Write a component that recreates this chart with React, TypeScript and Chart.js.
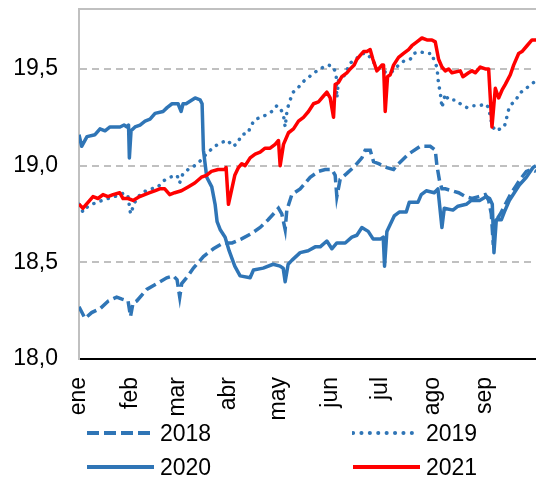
import { useEffect, useRef } from "react";
import { Chart, registerables } from "chart.js";
Chart.register(...registerables);

const monthLabels = ["ene", "feb", "mar", "abr", "may", "jun", "jul", "ago", "sep"];
const monthStartDays = [0, 31, 59, 90, 120, 151, 181, 212, 243];
const yTickValues = [18, 18.5, 19, 19.5];

// [day of year (0 = 1 ene), value]
const series2018: [number, number][] = [
  [0, 18.27], [3.6, 18.21], [7.6, 18.24], [12.6, 18.26], [17.6, 18.3], [22.6, 18.32], [25.8, 18.31], [29.4, 18.3],
  [30.9, 18.22], [32.4, 18.29], [34.6, 18.3], [40.6, 18.36], [46.6, 18.39], [52.6, 18.42], [56.6, 18.43], [58.8, 18.41],
  [60.4, 18.32], [61.6, 18.39], [65.4, 18.43], [68.6, 18.47], [74.6, 18.53], [80.6, 18.57], [86.4, 18.6], [91.8, 18.6],
  [97.2, 18.62], [103.6, 18.65], [108.6, 18.68], [113.4, 18.72], [117.6, 18.76], [119.6, 18.78], [121.6, 18.75], [123.6, 18.67],
  [124.6, 18.77], [127.6, 18.85], [132.6, 18.88], [138.6, 18.94], [143.6, 18.97], [147.6, 18.98], [151.6, 18.98], [153.6, 18.95],
  [154.6, 18.84], [156.6, 18.93], [160.6, 18.96], [165.6, 19.0], [169.6, 19.04], [171.6, 19.08], [174.6, 19.08], [176.6, 19.02],
  [179.6, 19.01], [184.6, 18.99], [188.6, 18.98], [191.6, 19.01], [197.6, 19.06], [204.6, 19.1], [210.6, 19.1], [213.6, 19.08],
  [214.6, 19.0], [216.2, 18.92], [217.6, 18.88], [219.6, 18.88], [223.6, 18.87], [227.6, 18.86], [231.6, 18.84], [235.6, 18.83],
  [239.6, 18.84], [243.6, 18.85], [245.6, 18.82], [247.2, 18.75], [248.4, 18.59], [249.6, 18.71], [252.6, 18.75], [255.6, 18.8],
  [258.6, 18.85], [261.6, 18.89], [264.6, 18.93], [268.2, 18.97], [271.2, 18.98], [274, 18.97],
];

const series2019: [number, number][] = [
  [0, 18.8], [2.4, 18.76], [5.4, 18.79], [10.4, 18.81], [17.4, 18.83], [21.4, 18.84], [27.4, 18.86], [29.4, 18.84],
  [30.9, 18.75], [33.4, 18.81], [37.4, 18.86], [40.4, 18.87], [43.4, 18.88], [47.4, 18.89], [50.4, 18.92], [54.4, 18.94],
  [58.8, 18.95], [60.3, 18.91], [62.4, 18.96], [65.4, 18.98], [69.4, 19.0], [73.4, 19.03], [77.4, 19.07], [81.4, 19.1],
  [85.4, 19.12], [89.4, 19.13], [91.8, 19.1], [94.6, 19.11], [97.6, 19.16], [101.6, 19.17], [102.6, 19.2], [105.6, 19.24],
  [109.6, 19.25], [111.6, 19.26], [115.6, 19.28], [118.6, 19.31], [120.6, 19.3], [122.6, 19.26], [123.6, 19.2], [124.8, 19.29],
  [126.6, 19.34], [128.4, 19.38], [131.2, 19.4], [133.8, 19.43], [136.6, 19.45], [139.6, 19.47], [142.6, 19.49], [146.6, 19.51],
  [149.6, 19.52], [152.6, 19.51], [154.2, 19.47], [154.6, 19.35], [155.6, 19.44], [158.6, 19.46], [162.6, 19.53], [167.2, 19.56],
  [170.6, 19.58], [172.8, 19.58], [177, 19.53], [180.6, 19.49], [185.6, 19.48], [188.6, 19.49], [191.6, 19.52], [194.6, 19.54],
  [198.6, 19.55], [200.6, 19.58], [204.6, 19.59], [207.6, 19.58], [211.6, 19.58], [213, 19.54], [214.6, 19.51], [215.6, 19.42],
  [216.6, 19.38], [217.6, 19.3], [219.6, 19.37], [221.6, 19.34], [225.6, 19.34], [228.6, 19.32], [232.6, 19.3], [236.2, 19.31],
  [240.2, 19.31], [243.6, 19.32], [245.6, 19.3], [247.6, 19.21], [249.6, 19.18], [252.6, 19.19], [255, 19.2], [256.2, 19.24],
  [257.6, 19.29], [259.6, 19.32], [262.2, 19.34], [263.6, 19.37], [266.6, 19.39], [269.6, 19.41], [272.6, 19.43], [274, 19.45],
];

const series2020: [number, number][] = [
  [0, 19.16], [1.6, 19.1], [4.8, 19.15], [9.6, 19.16], [12.6, 19.19], [15.6, 19.18], [18.6, 19.2], [24.6, 19.2],
  [27, 19.21], [28.8, 19.2], [29.7, 19.21], [30.2, 19.04], [31.2, 19.18], [33.6, 19.2], [36.6, 19.21], [39.6, 19.23],
  [42.6, 19.24], [45.6, 19.27], [50.4, 19.28], [52.8, 19.3], [55.8, 19.32], [59.4, 19.32], [61.2, 19.28], [62.4, 19.32],
  [64.2, 19.32], [69.6, 19.35], [72.6, 19.34], [73.8, 19.32], [74.6, 19.08], [76.6, 18.94], [79.6, 18.89], [81.6, 18.8],
  [82.8, 18.71], [84.6, 18.67], [87.6, 18.63], [90, 18.56], [93.4, 18.48], [96.6, 18.43], [102.6, 18.42], [104.6, 18.46],
  [110.4, 18.47], [116.4, 18.49], [120.6, 18.48], [122.4, 18.47], [123.6, 18.4], [125.4, 18.49], [127.6, 18.51], [132.6, 18.55],
  [137.4, 18.56], [141.6, 18.58], [144.6, 18.58], [148.6, 18.61], [151.6, 18.57], [154.6, 18.6], [159.6, 18.6], [163.6, 18.63],
  [166.6, 18.64], [169.6, 18.68], [173.4, 18.66], [176.4, 18.62], [180.6, 18.62], [182.4, 18.63], [183.2, 18.48], [184.6, 18.66],
  [189, 18.74], [192, 18.76], [196.2, 18.76], [198, 18.81], [203.2, 18.81], [205.2, 18.85], [208.2, 18.87], [213, 18.86],
  [215.2, 18.88], [217.6, 18.68], [219, 18.78], [224.2, 18.77], [227.2, 18.79], [232.2, 18.8], [235.2, 18.82], [240.2, 18.82],
  [244.2, 18.84], [246.2, 18.83], [247.8, 18.8], [248.8, 18.55], [250.2, 18.72], [253.2, 18.72], [255, 18.76], [258, 18.82],
  [261, 18.86], [264, 18.9], [268.2, 18.94], [272.2, 18.99], [274, 19.0],
];

const series2021: [number, number][] = [
  [0, 18.8], [2.4, 18.78], [5.4, 18.81], [8.4, 18.84], [11.4, 18.83], [14.4, 18.85], [17.4, 18.84], [20.4, 18.85],
  [24.4, 18.86], [26.4, 18.83], [29.4, 18.83], [32.4, 18.82], [36.4, 18.84], [39.4, 18.85], [42.4, 18.86], [45.4, 18.87],
  [48.4, 18.88], [51.4, 18.88], [54.4, 18.85], [57.4, 18.86], [61.4, 18.87], [65.4, 18.89], [69.4, 18.91], [73.4, 18.94],
  [76.4, 18.95], [79.4, 18.97], [83.4, 18.98], [87.4, 18.98], [88.2, 18.99], [89.6, 18.8], [93.4, 18.95], [95.6, 18.99],
  [97.6, 19.01], [99.6, 19.0], [102.6, 19.04], [105.6, 19.06], [108.6, 19.07], [111.6, 19.09], [114.6, 19.09], [117.6, 19.11],
  [119.6, 19.13], [120.6, 19.0], [122.6, 19.11], [125.6, 19.17], [128.6, 19.19], [131.6, 19.23], [134.6, 19.25], [137.6, 19.28],
  [140.6, 19.32], [143.6, 19.33], [146.6, 19.36], [148.6, 19.38], [150.6, 19.35], [152.6, 19.25], [153.6, 19.42], [155.6, 19.43],
  [157.6, 19.46], [160.6, 19.48], [162.6, 19.5], [165, 19.52], [166.6, 19.55], [168.6, 19.57], [170.6, 19.59], [172.6, 19.59],
  [174.6, 19.6], [176.2, 19.55], [178.6, 19.49], [181.6, 19.52], [182.6, 19.52], [183.6, 19.28], [185, 19.46], [186.6, 19.47],
  [188.6, 19.52], [191.6, 19.56], [194.6, 19.58], [197.6, 19.6], [199.6, 19.62], [202.6, 19.64], [205.6, 19.66], [208.6, 19.65],
  [211.6, 19.65], [213.6, 19.64], [215.6, 19.55], [217.6, 19.51], [219.6, 19.49], [221.6, 19.5], [223.6, 19.48], [228.6, 19.49],
  [230.2, 19.46], [233.6, 19.48], [235.6, 19.49], [237.6, 19.48], [240.6, 19.51], [243.6, 19.5], [245.6, 19.5], [247.6, 19.2],
  [249.6, 19.4], [251.6, 19.35], [253.6, 19.39], [255.6, 19.42], [258.6, 19.47], [260.6, 19.52], [263.6, 19.58], [265.6, 19.59],
  [268.6, 19.62], [271.6, 19.65], [274, 19.65],
];

const BLUE = "#2f75b6";
const RED = "#ff0000";
const FONT = "'Liberation Sans', Arial, sans-serif";

const toPoints = (s: [number, number][]) => s.map(([x, y]) => ({ x, y }));

const topBorder = {
  id: "topBorder",
  afterDraw(chart: any) {
    const { ctx, chartArea } = chart;
    ctx.save();
    ctx.strokeStyle = "#c0c0c0";
    ctx.lineWidth = 2;
    ctx.beginPath();
    ctx.moveTo(chartArea.left, chartArea.top);
    ctx.lineTo(chartArea.right, chartArea.top);
    ctx.stroke();
    ctx.restore();
  },
};

function LegendItem({ left, top, label, dash, color, cap }: any) {
  return (
    <>
      <svg style={{ position: "absolute", left, top: top - 5, width: 70, height: 10 }}>
        <line x1={1} y1={5} x2={68} y2={5} stroke={color} strokeWidth={4} strokeDasharray={dash} strokeLinecap={cap} />
      </svg>
      <span
        style={{
          position: "absolute",
          left: left + 74,
          top: top - 11.5,
          font: `23px ${FONT}`,
          lineHeight: "23px",
          color: "#000",
          whiteSpace: "nowrap",
        }}
      >
        {label}
      </span>
    </>
  );
}

export default function App() {
  const ref = useRef<HTMLCanvasElement>(null);
  useEffect(() => {
    if (!ref.current) return;
    const chart = new Chart(ref.current, {
      type: "line",
      data: {
        datasets: [
          {
            label: "2018",
            data: toPoints(series2018),
            borderColor: BLUE,
            borderWidth: 3.5,
            borderDash: [11, 5],
            pointRadius: 0,
            tension: 0,
            order: 3,
          },
          {
            label: "2019",
            data: toPoints(series2019),
            borderColor: BLUE,
            borderWidth: 3.5,
            borderDash: [0.1, 7.5],
            borderCapStyle: "round",
            pointRadius: 0,
            tension: 0,
            order: 2,
          },
          {
            label: "2020",
            data: toPoints(series2020),
            borderColor: BLUE,
            borderWidth: 3.5,
            borderJoinStyle: "round",
            pointRadius: 0,
            tension: 0,
            order: 1,
          },
          {
            label: "2021",
            data: toPoints(series2021),
            borderColor: RED,
            borderWidth: 3.5,
            borderJoinStyle: "round",
            pointRadius: 0,
            tension: 0,
            order: 0,
          },
        ],
      },
      options: {
        animation: false,
        responsive: false,
        maintainAspectRatio: false,
        layout: { padding: { top: 9, left: 0, right: 0, bottom: 0 } },
        plugins: { legend: { display: false }, tooltip: { enabled: false } },
        scales: {
          x: {
            type: "linear",
            min: 0,
            max: 274,
            afterBuildTicks: (s: any) => {
              s.ticks = monthStartDays.map((v) => ({ value: v }));
            },
            afterFit: (s: any) => {
              s.height = 63;
              s.paddingLeft = 0;
              s.paddingRight = 0;
            },
            ticks: {
              autoSkip: false,
              minRotation: 90,
              maxRotation: 90,
              padding: 18,
              color: "#000",
              font: { family: FONT, size: 23 },
              callback: (_v: any, i: number) => monthLabels[i],
            },
            grid: { display: false, drawTicks: false },
            border: { display: true, color: "#000", width: 2 },
          },
          y: {
            min: 18,
            max: 19.81,
            afterBuildTicks: (s: any) => {
              s.ticks = yTickValues.map((v) => ({ value: v }));
            },
            afterFit: (s: any) => {
              s.width = 79;
              s.paddingTop = 0;
              s.paddingBottom = 0;
            },
            ticks: {
              padding: 21,
              color: "#000",
              font: { family: FONT, size: 23 },
              callback: (v: any) => Number(v).toFixed(1).replace(".", ","),
            },
            grid: {
              drawTicks: false,
              lineWidth: 2,
              color: (c: any) => (c.tick && c.tick.value === 18 ? "rgba(0,0,0,0)" : "#c0c0c0"),
            },
            border: { display: true, color: "#c0c0c0", width: 2, dash: [7, 5] },
          },
        },
      },
      plugins: [topBorder],
    });
    return () => chart.destroy();
  }, []);

  return (
    <div style={{ position: "absolute", left: 0, top: 0, width: 536, height: 481, background: "#fff" }}>
      <canvas ref={ref} width={536} height={422} style={{ position: "absolute", left: 0, top: 0, width: 536, height: 422 }} />
      <LegendItem left={86} top={433} label="2018" dash="12 5" color={BLUE} cap="butt" />
      <LegendItem left={352} top={433} label="2019" dash="0.1 8.3" color={BLUE} cap="round" />
      <LegendItem left={86} top={467} label="2020" color={BLUE} cap="butt" />
      <LegendItem left={352} top={467} label="2021" color={RED} cap="butt" />
    </div>
  );
}
